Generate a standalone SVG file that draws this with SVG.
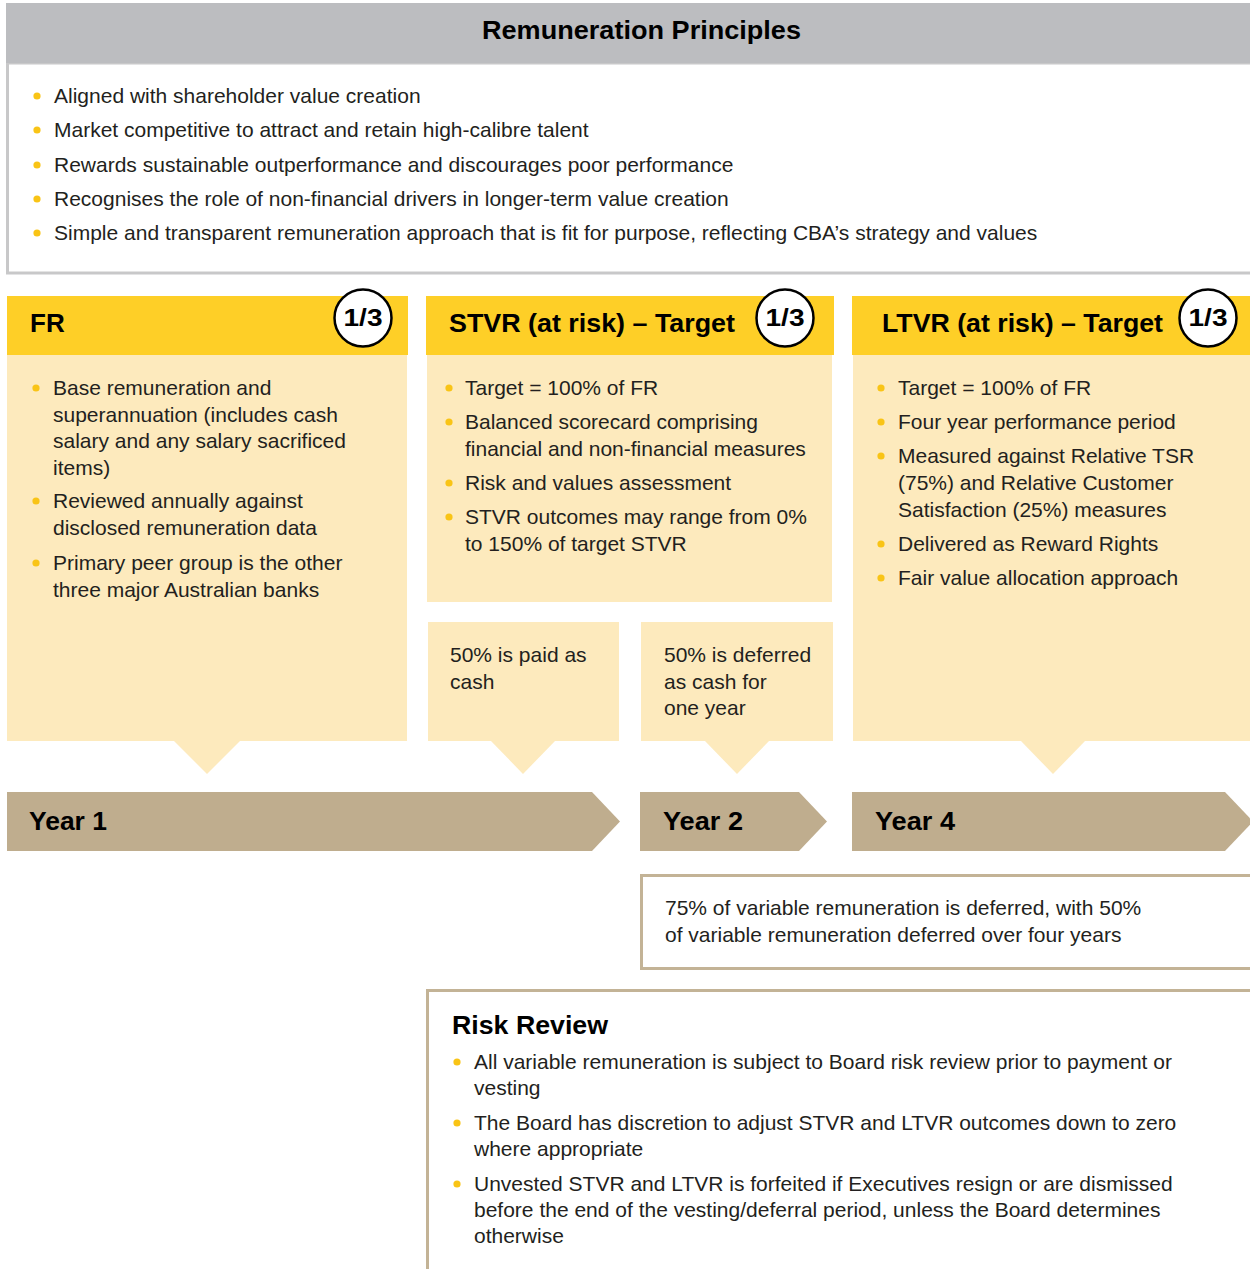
<svg xmlns="http://www.w3.org/2000/svg" width="1250" height="1269" viewBox="0 0 1250 1269">
<style>
.t{font-family:"Liberation Sans",Arial,sans-serif;font-size:21px;fill:#231f20}
.b{font-family:"Liberation Sans",Arial,sans-serif;font-weight:bold;font-size:26px;fill:#000}
.c{font-family:"Liberation Sans",Arial,sans-serif;font-weight:bold;font-size:23px;fill:#000}
.hdr{fill:#fecf27}
.body{fill:#fdeabd}
.yr{fill:#bfad8e}
.dot{fill:#f9c416}
.ring{fill:#fff;stroke:#000;stroke-width:2.5}
</style>
<defs>
<circle id="bul" r="3.6" class="dot"/>
</defs>
<rect width="1250" height="1269" fill="#fff"/>

<g id="principles">
<rect x="7.5" y="63" width="1260" height="210" fill="#fff" stroke="#c8c8c9" stroke-width="3"/>
<rect x="6" y="3" width="1260" height="60" fill="#bcbdc0"/>
<text x="482" y="39" class="b" textLength="319" lengthAdjust="spacingAndGlyphs">Remuneration Principles</text>
<use href="#bul" x="37" y="96"/><text x="54" y="103" class="t">Aligned with shareholder value creation</text>
<use href="#bul" x="37" y="130"/><text x="54" y="137" class="t">Market competitive to attract and retain high-calibre talent</text>
<use href="#bul" x="37" y="165"/><text x="54" y="172" class="t">Rewards sustainable outperformance and discourages poor performance</text>
<use href="#bul" x="37" y="199"/><text x="54" y="206" class="t">Recognises the role of non-financial drivers in longer-term value creation</text>
<use href="#bul" x="37" y="233"/><text x="54" y="240" class="t">Simple and transparent remuneration approach that is fit for purpose, reflecting CBA’s strategy and values</text>
</g>

<g id="connectors">
<polygon class="body" points="173,740 241,740 207,774"/>
<polygon class="body" points="490,740 556,740 523,774"/>
<polygon class="body" points="704,740 770,740 737,774"/>
<polygon class="body" points="1020,740 1086,740 1053,774"/>
</g>

<g id="fr">
<rect x="7" y="355" width="400" height="386" class="body"/>
<rect x="7" y="296" width="401" height="59" class="hdr"/>
<text x="30" y="332" class="b">FR</text>
<circle cx="363" cy="318" r="28.5" class="ring"/>
<text x="363" y="326" class="c" text-anchor="middle" textLength="39" lengthAdjust="spacingAndGlyphs">1/3</text>
<use href="#bul" x="36" y="388"/><text x="53" y="395" class="t">Base remuneration and</text>
<text x="53" y="421.5" class="t">superannuation (includes cash</text>
<text x="53" y="448" class="t">salary and any salary sacrificed</text>
<text x="53" y="474.5" class="t">items)</text>
<use href="#bul" x="36" y="501"/><text x="53" y="508" class="t">Reviewed annually against</text>
<text x="53" y="535" class="t">disclosed remuneration data</text>
<use href="#bul" x="36" y="563"/><text x="53" y="570" class="t">Primary peer group is the other</text>
<text x="53" y="597" class="t">three major Australian banks</text>
</g>

<g id="stvr">
<rect x="427" y="355" width="405" height="247" class="body"/>
<rect x="426" y="296" width="408" height="59" class="hdr"/>
<text x="449" y="332" class="b" textLength="286" lengthAdjust="spacingAndGlyphs">STVR (at risk) – Target</text>
<circle cx="785" cy="318" r="28.5" class="ring"/>
<text x="785" y="326" class="c" text-anchor="middle" textLength="39" lengthAdjust="spacingAndGlyphs">1/3</text>
<use href="#bul" x="449" y="388"/><text x="465" y="395" class="t">Target = 100% of FR</text>
<use href="#bul" x="449" y="422"/><text x="465" y="429" class="t">Balanced scorecard comprising</text>
<text x="465" y="456" class="t">financial and non-financial measures</text>
<use href="#bul" x="449" y="483"/><text x="465" y="490" class="t">Risk and values assessment</text>
<use href="#bul" x="449" y="517"/><text x="465" y="524" class="t">STVR outcomes may range from 0%</text>
<text x="465" y="551" class="t">to 150% of target STVR</text>
</g>

<g id="stvr-cash">
<rect x="428" y="622" width="191" height="119" class="body"/>
<text x="450" y="662" class="t">50% is paid as</text>
<text x="450" y="689" class="t">cash</text>
</g>

<g id="stvr-deferred">
<rect x="641" y="622" width="192" height="119" class="body"/>
<text x="664" y="662" class="t">50% is deferred</text>
<text x="664" y="689" class="t">as cash for</text>
<text x="664" y="715" class="t">one year</text>
</g>

<g id="ltvr">
<rect x="853" y="355" width="397" height="386" class="body"/>
<rect x="852" y="296" width="398" height="59" class="hdr"/>
<text x="882" y="332" class="b" textLength="281" lengthAdjust="spacingAndGlyphs">LTVR (at risk) – Target</text>
<circle cx="1208" cy="318" r="28.5" class="ring"/>
<text x="1208" y="326" class="c" text-anchor="middle" textLength="39" lengthAdjust="spacingAndGlyphs">1/3</text>
<use href="#bul" x="881" y="388"/><text x="898" y="395" class="t">Target = 100% of FR</text>
<use href="#bul" x="881" y="422"/><text x="898" y="429" class="t">Four year performance period</text>
<use href="#bul" x="881" y="456"/><text x="898" y="463" class="t">Measured against Relative TSR</text>
<text x="898" y="490" class="t">(75%) and Relative Customer</text>
<text x="898" y="517" class="t">Satisfaction (25%) measures</text>
<use href="#bul" x="881" y="544"/><text x="898" y="551" class="t">Delivered as Reward Rights</text>
<use href="#bul" x="881" y="578"/><text x="898" y="585" class="t">Fair value allocation approach</text>
</g>

<g id="year1">
<polygon class="yr" points="7,792 592,792 620,821.5 592,851 7,851"/>
<text x="29" y="830" class="b" textLength="78" lengthAdjust="spacingAndGlyphs">Year 1</text>
</g>
<g id="year2">
<polygon class="yr" points="640,792 799,792 827,821.5 799,851 640,851"/>
<text x="663" y="830" class="b" textLength="80" lengthAdjust="spacingAndGlyphs">Year 2</text>
</g>
<g id="year4">
<polygon class="yr" points="852,792 1225,792 1253,821.5 1225,851 852,851"/>
<text x="875" y="830" class="b" textLength="80" lengthAdjust="spacingAndGlyphs">Year 4</text>
</g>

<g id="deferral-note">
<rect x="641.5" y="875.5" width="700" height="93" fill="#fff" stroke="#c3b396" stroke-width="3"/>
<text x="665" y="915" class="t">75% of variable remuneration is deferred, with 50%</text>
<text x="665" y="942" class="t">of variable remuneration deferred over four years</text>
</g>

<g id="risk-review">
<rect x="427.5" y="990.5" width="900" height="400" fill="#fff" stroke="#c3b396" stroke-width="3"/>
<text x="452" y="1034" class="b" textLength="156" lengthAdjust="spacingAndGlyphs">Risk Review</text>
<use href="#bul" x="457" y="1062"/><text x="474" y="1069" class="t">All variable remuneration is subject to Board risk review prior to payment or</text>
<text x="474" y="1095" class="t">vesting</text>
<use href="#bul" x="457" y="1123"/><text x="474" y="1130" class="t">The Board has discretion to adjust STVR and LTVR outcomes down to zero</text>
<text x="474" y="1156" class="t">where appropriate</text>
<use href="#bul" x="457" y="1184"/><text x="474" y="1191" class="t">Unvested STVR and LTVR is forfeited if Executives resign or are dismissed</text>
<text x="474" y="1217" class="t">before the end of the vesting/deferral period, unless the Board determines</text>
<text x="474" y="1243" class="t">otherwise</text>
</g>
</svg>
